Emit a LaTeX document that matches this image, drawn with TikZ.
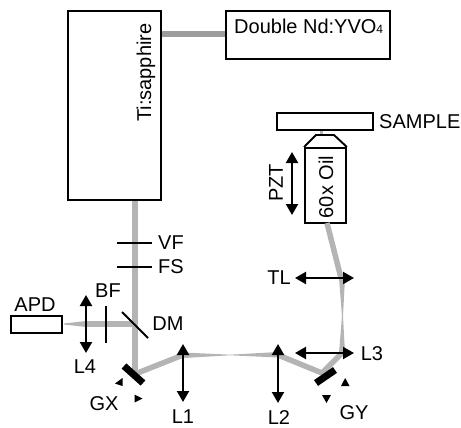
\documentclass[tikz,border=0pt]{standalone}
\usepackage{fontspec}
\setmainfont{Liberation Sans}
\usetikzlibrary{arrows.meta,calc}
\tikzset{
  box/.style={draw=black,line width=1.9pt,fill=white,inner sep=0pt,minimum width=#1},
  lbl/.style={inner sep=0pt,font=\fontsize{20}{22}\selectfont},
  beam/.style={draw=beamgray,line width=5.5pt,line join=miter},
  taper/.style={fill=beamgray,draw=none},
  lens/.style={line width=2.1pt,{Triangle[length=11pt,width=12pt]}-{Triangle[length=11pt,width=12pt]}},
  optic/.style={line width=2.1pt},
  mirror/.style={line width=7pt},
  tick/.style={fill=black,draw=none}
}
\definecolor{beamgray}{HTML}{B4B4B4}
\definecolor{pumpgray}{HTML}{9C9C9C}
\begin{document}
\begin{tikzpicture}[x=1pt,y=-1pt]
\useasboundingbox (0,0) rectangle (461,428);
% boxes
\node[box=93pt,minimum height=189pt] (ti) at (114.5,105.5) {};
\node[box=164pt,minimum height=48pt] (nd) at (308,35) {};
\node[box=51pt,minimum height=17pt] (apd) at (36.5,324.5) {};
\node[box=96pt,minimum height=17pt] (sample) at (325,121.5) {};
\node[box=41pt,minimum height=75pt] (obj) at (325.5,185.5) {};
% coordinates
\coordinate (dmc) at (135,324);
\coordinate (gxc) at (135,374);
\coordinate (gxa) at (124,366);
\coordinate (gxb) at (143,383);
\coordinate (gya) at (316,383);
\coordinate (gyb) at (335,370);
\coordinate (gyc) at (322,373);
\coordinate (l1t) at (183,355);
\coordinate (l2t) at (278,355);
\coordinate (l3r) at (342,353);
\coordinate (tlr) at (341,278);
\coordinate (objb) at (327,223);
% beams
\draw[line width=6pt,draw=pumpgray] (ti.east|-0,34) -- (nd.west|-0,34);
\draw[beam] (ti.south-|dmc) -- (gxc);
\draw[beam] (gxc) -- (l1t);
\draw[beam] (l2t) -- (gyc) -- (l3r);
\draw[beam] (tlr) -- (objb);
\draw[beam] (dmc) -- (86,324);
\fill[taper] (184,352.5) -- (230,354.7) -- (230,355.3) -- (184,358) -- cycle;
\fill[taper] (278,352) -- (230,354.7) -- (230,355.3) -- (278,357.5) -- cycle;
\fill[taper] (339,353) -- (342,316) -- (343,316) -- (345,353) -- cycle;
\fill[taper] (339,278) -- (342,316) -- (343,316) -- (345,278) -- cycle;
\fill[taper] (86,321) -- (64,323.5) -- (64,324.5) -- (86,327) -- cycle;
\fill[taper] (320,131) rectangle (323,135);
% objective top
\draw[line width=1.9pt,line join=miter] (obj.north west) -- (316,135) -- (334,135) -- (obj.north east);
% optics
\draw[optic] (117,243) -- (152,243);
\draw[optic] (117,267) -- (152,267);
\draw[optic] (122,312) -- (148,338);
\draw[optic] (106,306) -- (106,343);
\draw[lens] (86,295) -- (86,353);
\draw[lens] (183,344) -- (183,402);
\draw[lens] (278,344) -- (278,403);
\draw[lens] (295,353) -- (354,353);
\draw[lens] (295,278) -- (354,278);
\draw[lens] (292,152) -- (292,215);
\draw[mirror] (gxa) -- (gxb);
\draw[mirror] (gya) -- (gyb);
% small markers
\fill[tick] (122.5,378) -- (122.5,386) -- (115,383.5) -- cycle;
\fill[tick] (134.5,394.5) -- (142.5,398.5) -- (134.5,402.5) -- cycle;
\fill[tick] (341,386) -- (349.5,386) -- (345.2,378) -- cycle;
\fill[tick] (322,395) -- (331,395) -- (326.5,403) -- cycle;
% labels
\node[lbl,anchor=west] (ndt) at (234,26) {Double Nd:YVO{\fontsize{12}{12}\selectfont 4}};
\node[lbl,rotate=90,anchor=west] (tit2) at (146,122) {Ti:sapphire};
\node[lbl,anchor=west] (samplet) at (379,121.5) {SAMPLE};
\node[lbl,rotate=90] (pzt) at (276,183) {PZT};
\node[lbl,rotate=90] (oil) at (326,187) {60x Oil};
\node[lbl,anchor=west] (vft) at (158,243) {VF};
\node[lbl,anchor=west] (fst) at (158,267) {FS};
\node[lbl] (bft) at (108,291) {BF};
\node[lbl] (apdt) at (35,305) {APD};
\node[lbl] (dmt) at (168,324) {DM};
\node[lbl] (l4t) at (85,367) {L4};
\node[lbl] (gxt) at (104,404) {GX};
\node[lbl] (l1l) at (183,417) {L1};
\node[lbl] (l2l) at (279,417.5) {L2};
\node[lbl] (gyt) at (354,413) {GY};
\node[lbl] (l3l) at (372,354) {L3};
\node[lbl] (tlt) at (279,278) {TL};
\end{tikzpicture}
\end{document}
